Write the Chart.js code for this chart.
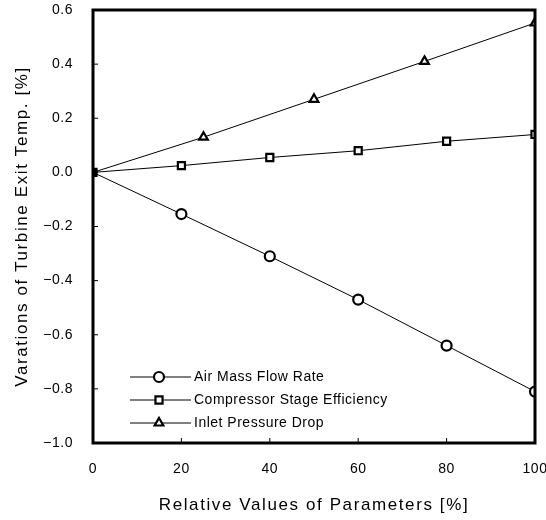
<!DOCTYPE html>
<html>
<head>
<meta charset="utf-8">
<script src="https://cdn.jsdelivr.net/npm/chart.js@4.4.1/dist/chart.umd.min.js"></script>
<style>
  html, body { margin: 0; padding: 0; background: #fff; }
  #wrap { width: 546px; height: 520px; }
</style>
</head>
<body>
<div id="wrap"><canvas id="chart" width="546" height="520"></canvas></div>
<script>
// valori
const airX = [0, 20, 40, 60, 80, 100];
const airY = [0, -0.154, -0.31, -0.47, -0.64, -0.81];
const compX = [0, 20, 40, 60, 80, 100];
const compY = [0, 0.025, 0.055, 0.08, 0.115, 0.14];
const inletX = [0, 25, 50, 75, 100];
const inletY = [0, 0.13, 0.27, 0.41, 0.552];
const xTicks = [0, 20, 40, 60, 80, 100];
const yTicks = [0.6, 0.4, 0.2, 0.0, -0.2, -0.4, -0.6, -0.8, -1.0];
const seriesNames = ['Air Mass Flow Rate', 'Compressor Stage Efficiency', 'Inlet Pressure Drop'];

const FONT = "'Liberation Sans', Arial, sans-serif";

function pairs(xs, ys) {
    return xs.map((x, i) => ({ x: x, y: ys[i] }));
}

function makeSet(label, xs, ys, style, showFirst) {
    return {
        label: label,
        data: pairs(xs, ys),
        borderColor: '#000',
        borderWidth: 1,
        pointStyle: style,
        pointRadius: ctx => (ctx.dataIndex === 0 && !showFirst) ? 0 : 5,
        pointBorderWidth: 2.2,
        pointBorderColor: '#000',
        pointBackgroundColor: ctx => ctx.dataIndex === 0 ? '#000' : '#fff',
        tension: 0
    };
}

// testo un po' spaziato come nell'originale (titoli degli assi piu' larghi)
const spacingPlugin = {
    id: 'spacing',
    beforeDraw(chart) {
        chart.ctx.letterSpacing = '0.5px';
        for (const id of ['x', 'y']) {
            const sc = chart.scales[id];
            if (sc._wideTitle) continue;
            const orig = sc.drawTitle;
            sc.drawTitle = function () {
                const c = this.ctx;
                const old = c.letterSpacing;
                c.letterSpacing = '1.6px';
                orig.call(this);
                c.letterSpacing = old;
            };
            sc._wideTitle = true;
        }
    }
};

// cornice spessa + tacche interne
const framePlugin = {
    id: 'frame',
    afterDraw(chart) {
        const { ctx, chartArea: a, scales } = chart;
        ctx.save();
        ctx.strokeStyle = '#000';
        ctx.lineWidth = 1;
        ctx.beginPath();
        for (const v of yTicks) {
            const py = scales.y.getPixelForValue(v);
            ctx.moveTo(a.left, py);
            ctx.lineTo(a.left + 5, py);
        }
        for (const v of xTicks) {
            const px = scales.x.getPixelForValue(v);
            ctx.moveTo(px, a.bottom);
            ctx.lineTo(px, a.bottom - 5);
        }
        ctx.stroke();
        ctx.lineWidth = 3;
        ctx.strokeRect(a.left, a.top, a.right - a.left, a.bottom - a.top);
        ctx.restore();
    }
};

// legenda dentro l'area del grafico, in basso a sinistra
const legendPlugin = {
    id: 'innerLegend',
    afterDraw(chart) {
        const { ctx } = chart;
        const rows = [377, 400, 423];
        ctx.save();
        ctx.font = '14px ' + FONT;
        ctx.textBaseline = 'middle';
        chart.data.datasets.forEach((ds, i) => {
            const y = rows[i];
            ctx.strokeStyle = '#000';
            ctx.lineWidth = 1;
            ctx.beginPath();
            ctx.moveTo(130, y);
            ctx.lineTo(191, y);
            ctx.stroke();
            ctx.fillStyle = '#fff';
            ctx.lineWidth = 2.2;
            Chart.helpers.drawPoint(ctx, { pointStyle: ds.pointStyle, radius: 5, rotation: 0, borderWidth: 2.2 }, 159, y);
            ctx.fillStyle = '#000';
            ctx.fillText(ds.label, 194, y);
        });
        ctx.restore();
    }
};

new Chart(document.getElementById('chart'), {
    type: 'line',
    data: {
        datasets: [
            makeSet(seriesNames[0], airX, airY, 'circle', false),
            makeSet(seriesNames[1], compX, compY, 'rect', true),
            makeSet(seriesNames[2], inletX, inletY, 'triangle', false)
        ]
    },
    options: {
        responsive: false,
        animation: false,
        layout: { padding: { left: 4, right: 11, top: 10, bottom: 0 } },
        plugins: {
            legend: { display: false },
            tooltip: { enabled: false }
        },
        scales: {
            x: {
                type: 'linear',
                min: 0,
                max: 100,
                afterBuildTicks: s => { s.ticks = xTicks.map(v => ({ value: v })); },
                afterFit: s => { s.height = 77; s.paddingLeft = 0; s.paddingRight = 0; },
                grid: { display: false, drawTicks: false },
                border: { display: false },
                ticks: {
                    padding: 18,
                    color: '#000',
                    font: { family: FONT, size: 14 },
                    callback: v => String(v)
                },
                title: {
                    display: true,
                    text: 'Relative Values of Parameters [%]',
                    color: '#000',
                    font: { family: FONT, size: 17 },
                    padding: { top: 0, bottom: 4 }
                }
            },
            y: {
                type: 'linear',
                min: -1.0,
                max: 0.6,
                afterBuildTicks: s => { s.ticks = yTicks.map(v => ({ value: v })); },
                afterFit: s => { s.width = 89; s.paddingTop = 0; s.paddingBottom = 0; },
                grid: { display: false, drawTicks: false },
                border: { display: false },
                ticks: {
                    padding: 20,
                    color: '#000',
                    font: { family: FONT, size: 14 },
                    callback: v => v.toFixed(1).replace('-', '\u2212')
                },
                title: {
                    display: true,
                    text: 'Varations of Turbine Exit Temp. [%]',
                    color: '#000',
                    font: { family: FONT, size: 17 },
                    padding: { top: 8, bottom: 0 }
                }
            }
        }
    },
    plugins: [spacingPlugin, framePlugin, legendPlugin]
});
</script>
</body>
</html>
